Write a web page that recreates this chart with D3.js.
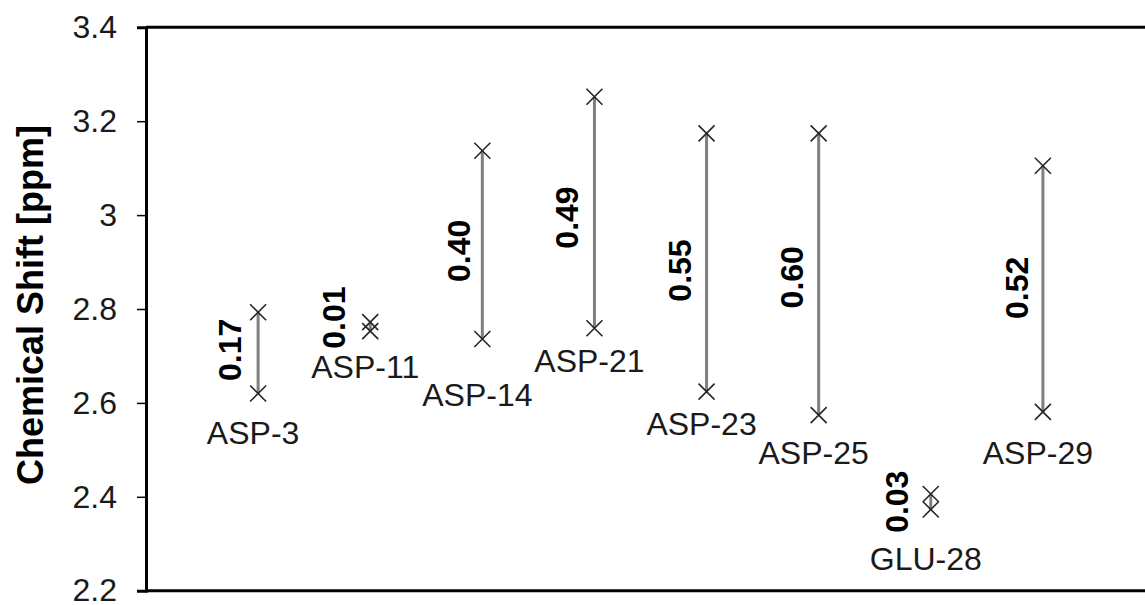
<!DOCTYPE html>
<html>
<head>
<meta charset="utf-8">
<script src="https://cdn.jsdelivr.net/npm/d3@7.9.0/dist/d3.min.js"></script>
<style>
  html, body { margin: 0; padding: 0; background: #fff; }
  svg { display: block; font-family: "Liberation Sans", Arial, sans-serif; }
</style>
</head>
<body>
<svg id="chart" width="1145" height="605"></svg>
<script>
// --- Data ---
const residues = ['ASP-3', 'ASP-11', 'ASP-14', 'ASP-21', 'ASP-23', 'ASP-25', 'GLU-28', 'ASP-29'];
const shiftHigh = [2.793, 2.772, 3.137, 3.252, 3.174, 3.174, 2.406, 3.105];
const shiftLow  = [2.620, 2.753, 2.736, 2.759, 2.624, 2.574, 2.373, 2.581];
const diffLabels = ['0.17', '0.01', '0.40', '0.49', '0.55', '0.60', '0.03', '0.52'];
const yTicks = [3.4, 3.2, 3.0, 2.8, 2.6, 2.4, 2.2];
const yTickLabels = ['3.4', '3.2', '3', '2.8', '2.6', '2.4', '2.2'];

// label nudges (pixels), hand placed like in the original
const nameDy = [50, 47, 67, 44, 43, 49, 61, 52];
const diffDx = [-28, -36, -23, -27, -27, -27, -34, -26];
const diffDy = [-3, -9, 6, 5, 8, 3, 0, -1];

// --- Layout ---
const plotLeft = 146, plotTop = 27.3, plotBottom = 590.7, plotRight = 1155;
const svg = d3.select('#chart');

const x = d3.scaleLinear().domain([0, 9]).range([plotLeft, plotRight]);
const y = d3.scaleLinear().domain([2.2, 3.4]).range([plotBottom, plotTop]);

// frame: top and bottom lines (right side runs off the picture)
svg.append('line')
   .attr('x1', plotLeft).attr('x2', 1150).attr('y1', plotTop).attr('y2', plotTop)
   .attr('stroke', '#000').attr('stroke-width', 3);
svg.append('line')
   .attr('x1', plotLeft).attr('x2', 1150).attr('y1', plotBottom).attr('y2', plotBottom)
   .attr('stroke', '#000').attr('stroke-width', 3);

// y axis
const yAxis = d3.axisLeft(y)
    .tickValues(yTicks)
    .tickFormat((d, i) => yTickLabels[i])
    .tickSize(9)
    .tickPadding(20);

const gy = svg.append('g')
   .attr('transform', `translate(${plotLeft},0)`)
   .call(yAxis);
gy.select('.domain').attr('stroke', '#000').attr('stroke-width', 3);
gy.selectAll('.tick line').attr('stroke', '#000').attr('stroke-width', 1.5);
gy.selectAll('.tick text')
  .attr('font-size', 32)
  .attr('fill', '#1a1a1a')
  .attr('font-family', '"Liberation Sans", Arial, sans-serif');

// axis title
svg.append('text')
   .attr('transform', `translate(43,305) rotate(-90)`)
   .attr('text-anchor', 'middle')
   .attr('font-size', 36)
   .attr('font-weight', 'bold')
   .attr('fill', '#000')
   .text('Chemical Shift [ppm]');

// --- Marks ---
const groups = svg.selectAll('g.res')
  .data(residues)
  .join('g')
  .attr('class', 'res');

// connecting grey lines
groups.append('line')
  .attr('x1', (d, i) => x(i + 1))
  .attr('x2', (d, i) => x(i + 1))
  .attr('y1', (d, i) => y(shiftHigh[i]))
  .attr('y2', (d, i) => y(shiftLow[i]))
  .attr('stroke', '#7f7f7f')
  .attr('stroke-width', 3);

// X markers
const xMark = (cx, cy, r) =>
  `M${cx - r},${cy - r}L${cx + r},${cy + r}M${cx - r},${cy + r}L${cx + r},${cy - r}`;

groups.append('path')
  .attr('d', (d, i) => xMark(x(i + 1), y(shiftHigh[i]), 8) + xMark(x(i + 1), y(shiftLow[i]), 8))
  .attr('stroke', '#262626')
  .attr('stroke-width', 1.6)
  .attr('fill', 'none');

// residue names below
groups.append('text')
  .attr('x', (d, i) => x(i + 1) - 5)
  .attr('y', (d, i) => y(shiftLow[i]) + nameDy[i])
  .attr('text-anchor', 'middle')
  .attr('font-size', 32)
  .attr('fill', '#1a1a1a')
  .text(d => d);

// difference labels, rotated
groups.append('text')
  .attr('transform', (d, i) => {
    const cx = x(i + 1) + diffDx[i];
    const cy = (y(shiftHigh[i]) + y(shiftLow[i])) / 2 + diffDy[i];
    return `translate(${cx},${cy}) rotate(-90)`;
  })
  .attr('text-anchor', 'middle')
  .attr('dominant-baseline', 'central')
  .attr('font-size', 32)
  .attr('font-weight', 'bold')
  .attr('fill', '#000')
  .text((d, i) => diffLabels[i]);
</script>
</body>
</html>
